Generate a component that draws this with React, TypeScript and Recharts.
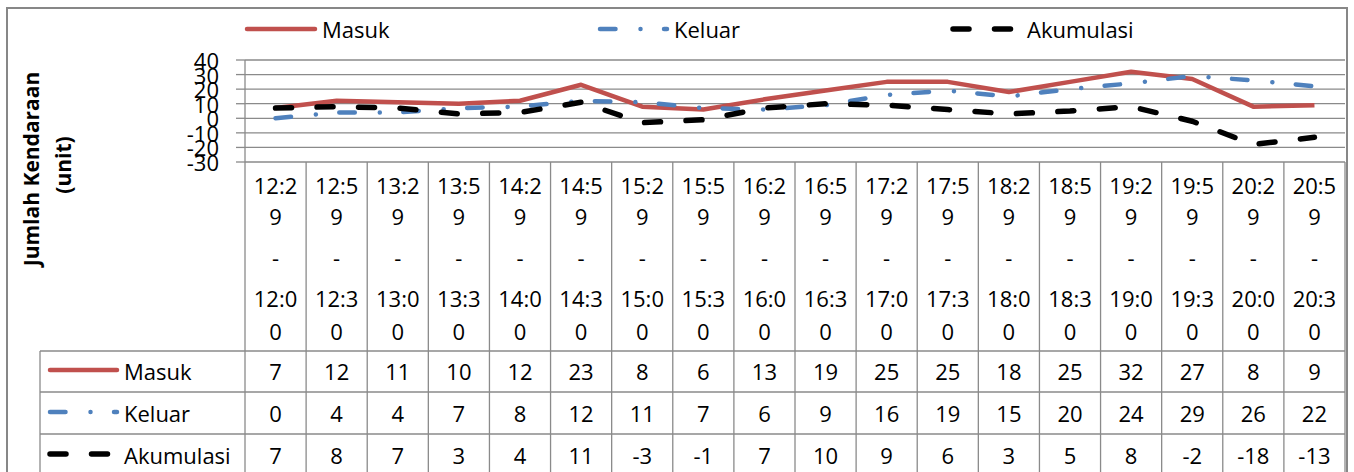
import React from "react";
import {
  LineChart,
  Line,
  XAxis,
  YAxis,
  CartesianGrid,
} from "recharts";

const categories = [
  "12:29 - 12:00",
  "12:59 - 12:30",
  "13:29 - 13:00",
  "13:59 - 13:30",
  "14:29 - 14:00",
  "14:59 - 14:30",
  "15:29 - 15:00",
  "15:59 - 15:30",
  "16:29 - 16:00",
  "16:59 - 16:30",
  "17:29 - 17:00",
  "17:59 - 17:30",
  "18:29 - 18:00",
  "18:59 - 18:30",
  "19:29 - 19:00",
  "19:59 - 19:30",
  "20:29 - 20:00",
  "20:59 - 20:30",
];
const masuk = [7, 12, 11, 10, 12, 23, 8, 6, 13, 19, 25, 25, 18, 25, 32, 27, 8, 9];
const keluar = [0, 4, 4, 7, 8, 12, 11, 7, 6, 9, 16, 19, 15, 20, 24, 29, 26, 22];
const akumulasi = [7, 8, 7, 3, 4, 11, -3, -1, 7, 10, 9, 6, 3, 5, 8, -2, -18, -13];
const yTicks = [-30, -20, -10, 0, 10, 20, 30, 40];

const FONT = "'Open Sans', Lato, sans-serif";
const FS = 22;
const GRID = "#8a8a8a";
const W = 1354;
const H = 472;
const PLOT_LEFT = 245;
const PLOT_RIGHT = 1345;
const PLOT_TOP = 60;
const PLOT_BOTTOM = 162;
const COL = (PLOT_RIGHT - PLOT_LEFT) / categories.length;
const ROW_LINES = [351, 392, 434];
const ROW_TEXT = [371, 413, 455];
const HEADER_Y = [185, 216, 257, 298, 331];

const series = [
  { key: "masuk", name: "Masuk", values: masuk, color: "#C0504D", width: 4.5, dash: undefined as string | undefined, cap: "butt" },
  { key: "keluar", name: "Keluar", values: keluar, color: "#4F81BD", width: 4.5, dash: "15.5 25 0.01 23.5", cap: "round" },
  { key: "akumulasi", name: "Akumulasi", values: akumulasi, color: "#000000", width: 5.5, dash: "16 25.5", cap: "round" },
];

const data = categories.map((label, i) => ({
  label,
  masuk: masuk[i],
  keluar: keluar[i],
  akumulasi: akumulasi[i],
}));

function splitLabel(s: string) {
  const [a, b] = s.split(" - ");
  return [a.slice(0, 4), a.slice(4), "-", b.slice(0, 4), b.slice(4)];
}

function ColumnTick(props: any) {
  const { x, payload } = props;
  const i = payload.index;
  const lines = splitLabel(String(payload.value));
  return (
    <g>
      {i === 0 && (
        <line x1={x - COL / 2} x2={x - COL / 2} y1={PLOT_BOTTOM} y2={H + 10} stroke={GRID} strokeWidth={1.3} />
      )}
      <line x1={x + COL / 2} x2={x + COL / 2} y1={PLOT_BOTTOM} y2={H + 10} stroke={GRID} strokeWidth={1.3} />
      {lines.map((t, k) => (
        <text key={k} x={x} y={HEADER_Y[k]} textAnchor="middle" dominantBaseline="central" fontFamily={FONT} fontSize={FS} fill="#000">
          {t}
        </text>
      ))}
      {series.map((s, r) => (
        <text key={s.key} x={x} y={ROW_TEXT[r]} textAnchor="middle" dominantBaseline="central" fontFamily={FONT} fontSize={FS} fill="#000">
          {s.values[i]}
        </text>
      ))}
    </g>
  );
}

function YTick(props: any) {
  const { x, y, payload } = props;
  return (
    <text x={x} y={y} textAnchor="end" dominantBaseline="central" fontFamily={FONT} fontSize={FS} fill="#000">
      {payload.value}
    </text>
  );
}

function Swatch({ s, x1, x2, y }: { s: (typeof series)[number]; x1: number; x2: number; y: number }) {
  return (
    <line
      x1={x1}
      x2={x2}
      y1={y}
      y2={y}
      stroke={s.color}
      strokeWidth={s.width}
      strokeDasharray={s.dash}
      strokeLinecap="round"
    />
  );
}

const topLegend = [
  { x1: 247, x2: 315, tx: 322 },
  { x1: 600, x2: 667, tx: 674 },
  { x1: 953, x2: 1011, tx: 1027 },
];

export default function App() {
  return (
    <div style={{ position: "fixed", left: 0, top: 0, width: W, height: H, background: "#fff", overflow: "hidden" }}>
      <div style={{ position: "absolute", left: 0, top: 0 }}>
        <LineChart width={W} height={H} data={data} margin={{ top: PLOT_TOP, right: W - PLOT_RIGHT, left: 200, bottom: 10 }}>
          <CartesianGrid vertical={false} stroke={GRID} strokeWidth={1.3} />
          <XAxis
            dataKey="label"
            height={H - 10 - PLOT_BOTTOM}
            axisLine={false}
            tickLine={false}
            interval={0}
            padding={{ left: COL / 2, right: COL / 2 }}
            tick={<ColumnTick />}
          />
          <YAxis
            width={45}
            domain={[-30, 40]}
            ticks={yTicks}
            interval={0}
            axisLine={{ stroke: GRID, strokeWidth: 1.3 }}
            tickLine={{ stroke: GRID, strokeWidth: 1.3 }}
            tickSize={9}
            tickMargin={17}
            tick={<YTick />}
          />
          {series.map((s) => (
            <Line
              key={s.key}
              dataKey={s.key}
              name={s.name}
              type="linear"
              stroke={s.color}
              strokeWidth={s.width}
              strokeDasharray={s.dash}
              strokeLinecap={s.cap as any}
              strokeLinejoin="round"
              dot={false}
              activeDot={false}
              isAnimationActive={false}
            />
          ))}
        </LineChart>
      </div>
      <svg width={W} height={H} style={{ position: "absolute", left: 0, top: 0, pointerEvents: "none" }}>
        <rect x={7} y={8} width={1340} height={500} fill="none" stroke="#878787" strokeWidth={2} />
        {series.map((s, r) => (
          <g key={s.key}>
            <Swatch s={s} x1={topLegend[r].x1} x2={topLegend[r].x2} y={29} />
            <text x={topLegend[r].tx} y={29} dominantBaseline="central" fontFamily={FONT} fontSize={FS} fill="#000">
              {s.name}
            </text>
          </g>
        ))}
        <text
          transform="translate(31,169) rotate(-90)"
          textAnchor="middle"
          dominantBaseline="central"
          fontFamily={FONT}
          fontSize={21}
          fontWeight="bold"
          fill="#000"
        >
          Jumlah Kendaraan
        </text>
        <text
          transform="translate(63,165) rotate(-90)"
          textAnchor="middle"
          dominantBaseline="central"
          fontFamily={FONT}
          fontSize={21}
          fontWeight="bold"
          fill="#000"
        >
          (unit)
        </text>
        {ROW_LINES.map((y) => (
          <line key={y} x1={40} x2={PLOT_RIGHT} y1={y} y2={y} stroke={GRID} strokeWidth={1.3} />
        ))}
        <line x1={40} x2={40} y1={ROW_LINES[0]} y2={H + 10} stroke={GRID} strokeWidth={1.3} />
        {series.map((s, r) => (
          <g key={s.key}>
            <Swatch s={s} x1={50} x2={117} y={ROW_TEXT[r] - 1} />
            <text x={124} y={ROW_TEXT[r]} dominantBaseline="central" fontFamily={FONT} fontSize={FS} fill="#000">
              {s.name}
            </text>
          </g>
        ))}
      </svg>
    </div>
  );
}
